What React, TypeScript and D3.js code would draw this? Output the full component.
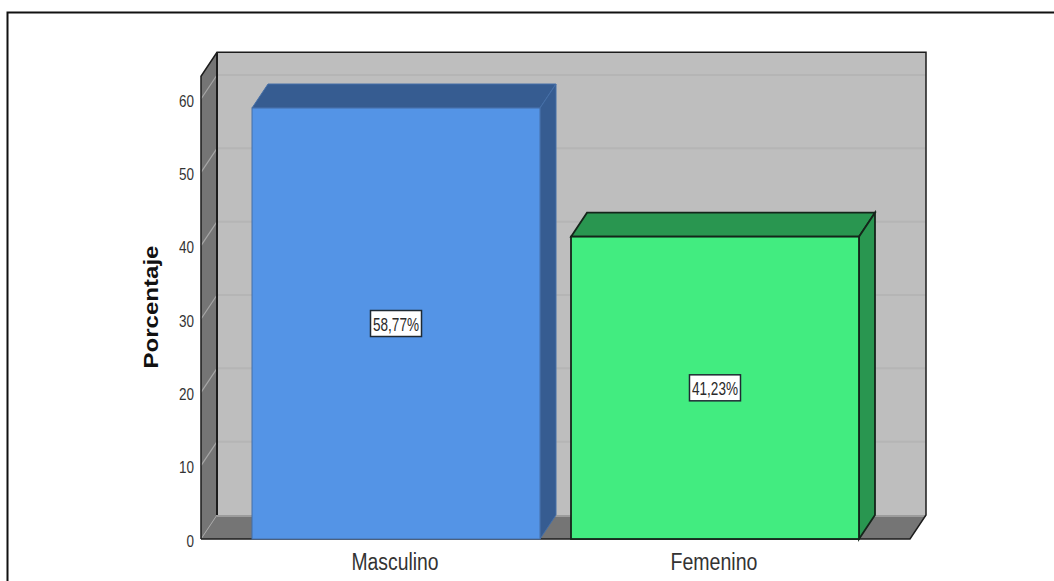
import React from "react";
import * as d3 from "d3";

const categories = ["Masculino", "Femenino"];
const percentages = [58.77, 41.23];
const percentLabels = ["58,77%", "41,23%"];
const yTicks = [0, 10, 20, 30, 40, 50, 60];
const yTitle = "Porcentaje";
const faceColors = ["#5494e6", "#42ec80"];
const topColors = ["#365c91", "#299650"];
const strokeColors = ["#456fa8", "#14251a"];

const W = 1054;
const H = 581;
const depthX = 16;
const depthY = -24;
const plotLeft = 201;
const plotRight = 910;
const y = d3.scaleLinear().domain([0, 60]).range([539, 99]);
const yMax = 63.1;
const x = d3.scaleBand<string>().domain(categories).range([236, 875]).paddingInner(0.0972).paddingOuter(0.0502);

const poly = (pts: [number, number][]) => d3.line()(pts) + "Z";
const sans = "Liberation Sans, Arial, sans-serif";

export default function App() {
  const y0 = y(0);
  const yTop = y(yMax);
  const backL = plotLeft + depthX;
  const backR = plotRight + depthX;
  return (
    <svg
      width={W}
      height={H}
      viewBox={`0 0 ${W} ${H}`}
      style={{ position: "absolute", left: 0, top: 0, display: "block", background: "#fff" }}
    >
      {/* outer frame: left and top edges only */}
      <path d={`M7.5,${H} V12.5 H${W}`} fill="none" stroke="#111" strokeWidth={2} />

      {/* back wall */}
      <rect x={backL} y={yTop + depthY} width={plotRight - plotLeft} height={y0 - yTop} fill="#bebebe" />
      {/* side wall */}
      <path d={poly([[plotLeft, y0], [backL, y0 + depthY], [backL, yTop + depthY], [plotLeft, yTop]])} fill="#757575" />
      {/* floor */}
      <path d={poly([[plotLeft, y0], [plotRight, y0], [backR, y0 + depthY], [backL, y0 + depthY]])} fill="#757575" />
      <line x1={backL} x2={backR} y1={y0 + depthY + 1} y2={y0 + depthY + 1} stroke="#9c9c9c" strokeWidth={2} />

      {/* gridlines running along the side wall and across the back */}
      {yTicks.slice(1).map((t) => (
        <g key={t}>
          <line x1={plotLeft} y1={y(t)} x2={backL} y2={y(t) + depthY} stroke="#a6a6a6" strokeWidth={1.2} />
          <line x1={backL} x2={backR} y1={y(t) + depthY} y2={y(t) + depthY} stroke="#b5b5b5" strokeWidth={2} />
        </g>
      ))}
      <line x1={plotLeft} x2={backL} y1={y0} y2={y0 + depthY} stroke="#a6a6a6" strokeWidth={1} />

      {/* wall outlines */}
      <path
        d={`M${plotLeft},${y0} V${yTop} L${backL},${yTop + depthY} H${backR} V${y0 + depthY} L${plotRight},${y0} H${plotLeft}`}
        fill="none"
        stroke="#1c1c1c"
        strokeWidth={1.5}
      />
      <line x1={backL} x2={backL} y1={yTop + depthY} y2={y0 + depthY} stroke="#1c1c1c" strokeWidth={2} />

      {/* extruded bars */}
      {categories.map((c, i) => {
        const l = x(c)!;
        const r = l + x.bandwidth();
        const t = y(percentages[i]);
        const cy = (t + y0) / 2;
        const cx = (l + r) / 2;
        const stroke = strokeColors[i];
        const sw = i === 0 ? 1 : 1.8;
        return (
          <g key={c}>
            <path
              d={poly([[l, t], [l + depthX, t + depthY], [r + depthX, t + depthY], [r, t]])}
              fill={topColors[i]}
              stroke={stroke}
              strokeWidth={sw}
            />
            <path
              d={poly([[r, t], [r + depthX, t + depthY], [r + depthX, y0 + depthY], [r, y0]])}
              fill={topColors[i]}
              stroke={stroke}
              strokeWidth={sw}
            />
            <rect x={l} y={t} width={r - l} height={y0 - t} fill={faceColors[i]} stroke={stroke} strokeWidth={sw} />
            <rect x={cx - 25.5} y={cy - 13} width={51} height={26} fill="#fff" stroke="#1f2a33" strokeWidth={1.5} />
            <text
              x={cx}
              y={cy + 7}
              textAnchor="middle"
              fontFamily={sans}
              fontSize={18}
              textLength={46}
              lengthAdjust="spacingAndGlyphs"
              fill="#2a2a2a"
            >
              {percentLabels[i]}
            </text>
          </g>
        );
      })}

      {/* value axis labels */}
      {yTicks.map((t) => {
        const label = String(t);
        return (
          <text
            key={t}
            x={194}
            y={y(t) + 7.5}
            textAnchor="end"
            fontFamily={sans}
            fontSize={16}
            textLength={7.5 * label.length}
            lengthAdjust="spacingAndGlyphs"
            fill="#333"
          >
            {label}
          </text>
        );
      })}
      <text
        transform="translate(158,307) rotate(-90)"
        textAnchor="middle"
        fontFamily={sans}
        fontSize={21}
        fontWeight={700}
        textLength={123}
        lengthAdjust="spacingAndGlyphs"
        fill="#111"
      >
        {yTitle}
      </text>

      {/* category labels */}
      {categories.map((c) => (
        <text
          key={c}
          x={x(c)! + x.bandwidth() / 2 - 1}
          y={570}
          textAnchor="middle"
          fontFamily={sans}
          fontSize={23}
          textLength={87}
          lengthAdjust="spacingAndGlyphs"
          fill="#333"
        >
          {c}
        </text>
      ))}
    </svg>
  );
}
